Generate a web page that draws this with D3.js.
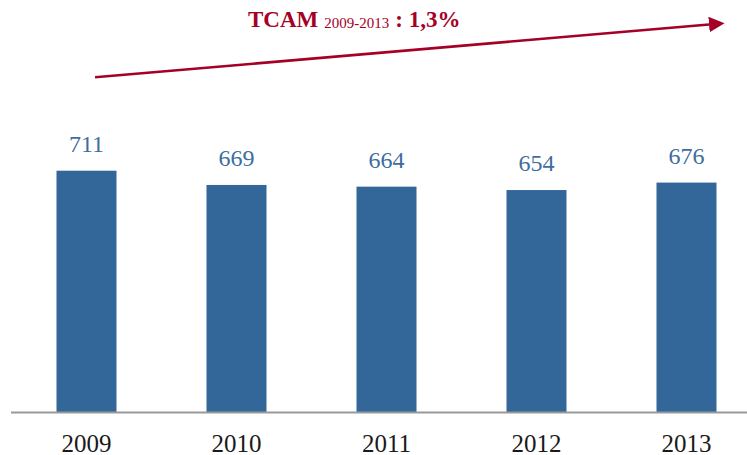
<!DOCTYPE html>
<html>
<head>
<meta charset="utf-8">
<script src="https://cdn.jsdelivr.net/npm/d3@7"></script>
<style>
  html, body { margin: 0; padding: 0; background: #ffffff; }
  svg { display: block; }
</style>
</head>
<body>
<svg id="chart" width="747" height="455" font-family="'Liberation Serif'"></svg>
<script>
const categories = ["2009", "2010", "2011", "2012", "2013"];
const values = [711, 669, 664, 654, 676];
const titleMain = "TCAM";
const titleSub = "2009-2013";
const titleRate = ": 1,3%";

const W = 747, H = 455;
const svg = d3.select("#chart");
const serif = '"Liberation Serif"';

const x = d3.scaleBand()
  .domain(categories)
  .range([11.5, 761.5])
  .paddingInner(0.6)
  .paddingOuter(0.3);

const y = d3.scaleLinear().domain([0, 800]).range([412, 140.5]);

const barColor = "#336699";
const labelColor = "#3d6da1";
const red = "#a50026";

// bars
svg.append("g").selectAll("rect")
  .data(values)
  .join("rect")
  .attr("x", (d, i) => x(categories[i]))
  .attr("y", d => y(d))
  .attr("width", x.bandwidth())
  .attr("height", d => y(0) - y(d))
  .attr("fill", barColor);

// value labels
svg.append("g").selectAll("text")
  .data(values)
  .join("text")
  .attr("x", (d, i) => x(categories[i]) + x.bandwidth() / 2)
  .attr("y", d => y(d) - 19)
  .attr("text-anchor", "middle")
  .style("font-family", serif)
  .style("font-size", "24px")
  .attr("fill", labelColor)
  .text(d => d);

// axis
const axis = svg.append("g")
  .attr("transform", `translate(0,${y(0)})`)
  .call(d3.axisBottom(x).tickSize(0).tickPadding(0));
axis.attr("font-family", serif).attr("font-size", 25);
axis.select(".domain").remove();
axis.append("line")
  .attr("x1", 11).attr("x2", W)
  .attr("y1", 0.5).attr("y2", 0.5)
  .attr("stroke", "#999999")
  .attr("stroke-width", 2);
axis.selectAll(".tick text")
  .attr("dy", null)
  .attr("y", 39.5)
  .style("font-family", serif)
  .style("font-size", "25px")
  .attr("fill", "#1a1a1a");

// arrow
const defs = svg.append("defs");
defs.append("marker")
  .attr("id", "arrowhead")
  .attr("viewBox", "0 0 10 10")
  .attr("refX", 0).attr("refY", 5)
  .attr("markerWidth", 6).attr("markerHeight", 6)
  .attr("markerUnits", "strokeWidth")
  .attr("orient", "auto")
  .append("path")
  .attr("d", "M0,0 L10,5 L0,10 Z")
  .attr("fill", red);

svg.append("line")
  .attr("x1", 95).attr("y1", 77.3)
  .attr("x2", 709).attr("y2", 24.5)
  .attr("stroke", red)
  .attr("stroke-width", 2.6)
  .attr("marker-end", "url(#arrowhead)");

// title
const t = svg.append("text")
  .attr("x", 248)
  .attr("y", 26.7)
  .style("font-family", serif)
  .style("font-size", "23px")
  .style("font-weight", "bold")
  .attr("fill", red);
t.append("tspan").text(titleMain);
t.append("tspan").style("font-size", "15px").style("font-weight", "normal").attr("dx", 6).attr("dy", 1.6).text(titleSub);
t.append("tspan").attr("dx", 6).attr("dy", -1.6).text(titleRate);
</script>
</body>
</html>
